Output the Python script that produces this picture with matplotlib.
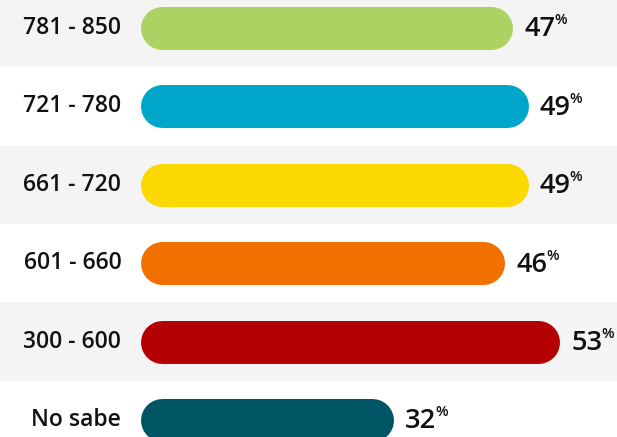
import matplotlib
matplotlib.use("Agg")
import matplotlib.pyplot as plt

categories = ["781 - 850", "721 - 780", "661 - 720", "601 - 660", "300 - 600", "No sabe"]
values = [47, 49, 49, 46, 53, 32]
colors = ["#acd264", "#00a6ca", "#fbd800", "#f27000", "#b40000", "#005565"]

W, H, DPI = 617, 437, 100
fig = plt.figure(figsize=(W / DPI, H / DPI), dpi=DPI)
ax = fig.add_axes([0, 0, 1, 1])

# scale: 0% at x=140px, 7.92 px per percent
x0_px, ppu = 140.0, 7.92
ax.set_xlim(-x0_px / ppu, (W - x0_px) / ppu)
row_px, first_px = 78.4, 28.0
ax.set_ylim((H - first_px) / row_px, -first_px / row_px)
ax.axis("off")

font = "Open Sans"
bar_h_px = 43.0
r = (bar_h_px / 2) / ppu
lw_pt = bar_h_px * 72 / DPI

for i, (cat, v, c) in enumerate(zip(categories, values, colors)):
    if i % 2 == 0:
        ax.axhspan(i - 0.5, i + 0.5, color="#f4f4f4", zorder=0, lw=0)
    ax.plot([r, v - r], [i, i], color=c, lw=lw_pt, solid_capstyle="round", zorder=2)
    ax.annotate(cat, xy=(0, i), xytext=(-13.5, 0), textcoords="offset points",
                ha="right", va="center", fontsize=16.5, family=font,
                weight="semibold", color="#111111")

fig.canvas.draw()
renderer = fig.canvas.get_renderer()
for i, v in enumerate(values):
    t = ax.annotate(f"{v}", xy=(v, i), xytext=(8.5, -1), textcoords="offset points",
                    ha="left", va="center", fontsize=19.5, family=font,
                    weight="semibold", color="#111111")
    bb = t.get_window_extent(renderer)
    xd, _ = ax.transData.inverted().transform((bb.x1, bb.y1))
    ax.annotate("%", xy=(xd, i), xytext=(-0.8, 5.5), textcoords="offset points",
                ha="left", va="center", fontsize=10.5, family=font,
                weight="semibold", color="#111111")

fig.savefig("out.png", dpi=DPI)
